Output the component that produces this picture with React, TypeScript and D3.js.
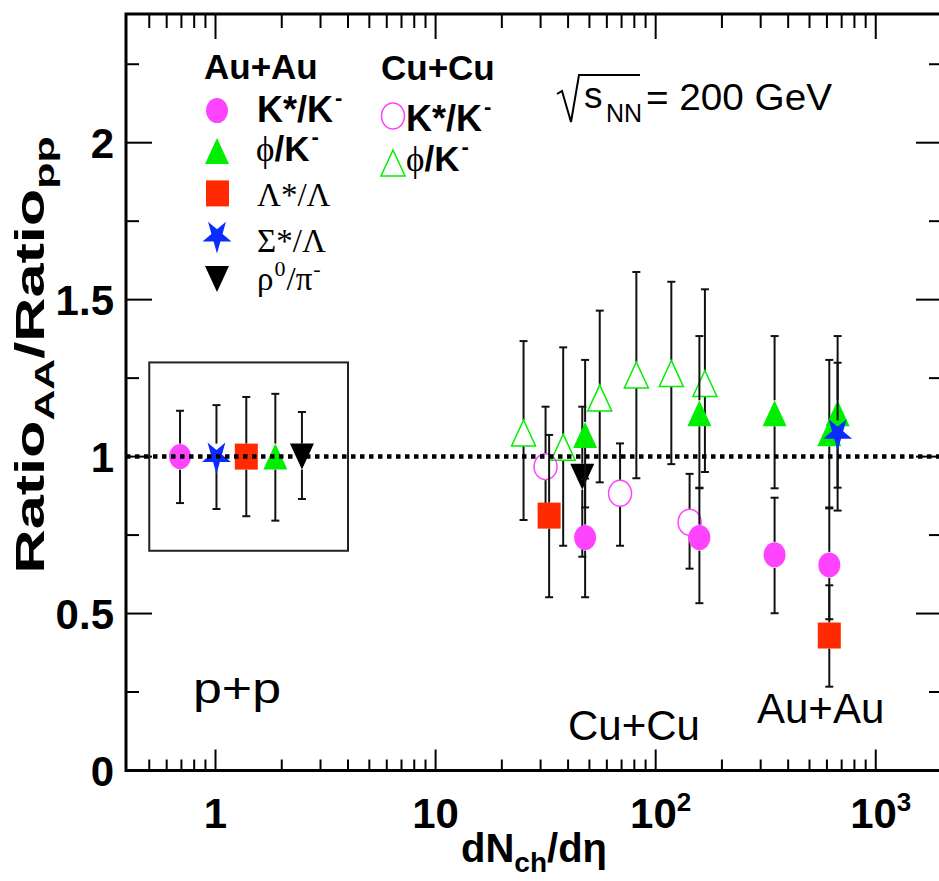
import React from "react";
import * as d3 from "d3";

const W = 939;
const H = 881;

// ---------- data ----------
// Au+Au K*/K- (filled circle) ; first point is p+p reference
const kstarAuX = [0.69, 47.8, 158, 347, 615];
const kstarAuY = [1.0, 0.742, 0.742, 0.687, 0.655];
const kstarAuLo = [0.852, 0.552, 0.533, 0.501, 0.482];
const kstarAuHi = [1.146, 0.93, 0.901, 0.869, 0.838];

// Au+Au phi/K- (filled triangle)
const phiAuX = [1.87, 47.8, 158, 347, 615, 671];
const phiAuY = [1.0, 1.069, 1.138, 1.138, 1.074, 1.138];
const phiAuLo = [0.796, 0.838, 0.899, 0.899, 0.835, 0.901];
const phiAuHi = [1.2, 1.308, 1.384, 1.384, 1.308, 1.384];

// Au+Au Lambda*/Lambda (filled square)
const lamAuX = [1.38, 32.8, 615];
const lamAuY = [1.0, 0.812, 0.43];
const lamAuLo = [0.81, 0.552, 0.267];
const lamAuHi = [1.19, 1.069, 0.59];

// Au+Au Sigma*/Lambda (star)
const sigAuX = [1.01, 671];
const sigAuY = [1.0, 1.074];
const sigAuLo = [0.833, 0.828];
const sigAuHi = [1.164, 1.299];

// Au+Au rho0/pi- (down triangle)
const rhoAuX = [2.47, 46.4];
const rhoAuY = [1.0, 0.936];
const rhoAuLo = [0.865, 0.681];
const rhoAuHi = [1.142, 1.159];

// Cu+Cu K*/K- (open circle)
const kstarCuX = [31.6, 68.9, 142.6];
const kstarCuY = [0.968, 0.883, 0.791];
const kstarCuLo = [0.777, 0.716, 0.643];
const kstarCuHi = [1.159, 1.042, 0.945];

// Cu+Cu phi/K- (open triangle)
const phiCuX = [25.1, 38, 55.7, 81.7, 117.8, 167.4];
const phiCuY = [1.075, 1.03, 1.187, 1.26, 1.265, 1.233];
const phiCuLo = [0.798, 0.716, 0.918, 0.931, 0.976, 0.951];
const phiCuHi = [1.368, 1.348, 1.465, 1.588, 1.557, 1.533];

const xMajor = [1, 10, 100, 1000];
const xMinor = [0.5, 0.6, 0.7, 0.8, 0.9, 2, 3, 4, 5, 6, 7, 8, 9, 20, 30, 40, 50, 60, 70, 80, 90, 200, 300, 400, 500, 600, 700, 800, 900];
const yMajor = [0, 0.5, 1, 1.5, 2];
const yMajorLabels = ["0", "0.5", "1", "1.5", "2"];
const yMinor = [0.25, 0.75, 1.25, 1.75, 2.25];
const ppBoxX = [0.5, 4];
const ppBoxY = [0.7, 1.3];

// ---------- colours ----------
const MAGENTA = "#ff44ff";
const GREEN = "#00ee00";
const RED = "#ff2a00";
const BLUE = "#0a2cff";

const SANS = "'Liberation Sans', Arial, Helvetica, sans-serif";
const SERIF = "'Liberation Serif', 'Times New Roman', serif";

const x = d3.scaleLog().domain([0.392, 2000]).range([126, 942]);
const y = d3.scaleLinear().domain([0, 2.41]).range([770.5, 14]);

type Shape = "circle" | "ocircle" | "tri" | "otri" | "square" | "star" | "dtri";

const HW = 11.5; // half width of markers
const HH = 13; // half height of markers

const starPath = d3.symbol(d3.symbolStar, 260)() as string;

function Marker({ shape, cx, cy, color }: { shape: Shape; cx: number; cy: number; color: string }) {
  const t = `translate(${cx},${cy})`;
  switch (shape) {
    case "circle":
      return <ellipse cx={cx} cy={cy} rx={HW - 0.5} ry={HH - 0.5} fill={color} />;
    case "ocircle":
      return <ellipse cx={cx} cy={cy} rx={HW} ry={HH} fill="none" stroke={color} strokeWidth={1.5} />;
    case "tri":
      return <path transform={t} d={`M0,${-HH} L${HW + 0.5},${HH} L${-HW - 0.5},${HH} Z`} fill={color} />;
    case "otri":
      return <path transform={t} d={`M0,${-HH} L${HW + 0.5},${HH} L${-HW - 0.5},${HH} Z`} fill="none" stroke={color} strokeWidth={1.5} />;
    case "dtri":
      return <path transform={t} d={`M0,${HH} L${HW + 0.5},${-HH} L${-HW - 0.5},${-HH} Z`} fill={color} />;
    case "square":
      return <rect x={cx - HW} y={cy - HH} width={HW * 2} height={HH * 2} fill={color} />;
    case "star":
      return <path transform={`${t} scale(1,1.15) rotate(180)`} d={starPath} fill={color} />;
  }
  return null;
}

function Series({ xs, ys, lo, hi, shape, color }: { xs: number[]; ys: number[]; lo: number[]; hi: number[]; shape: Shape; color: string }) {
  return (
    <g>
      {xs.map((xv, i) => {
        const px = x(xv);
        const py = y(ys[i]);
        const pHi = y(hi[i]);
        const pLo = y(lo[i]);
        return (
          <g key={"e" + i} stroke="#111" strokeWidth={2}>
            {pHi < py - HH && <line x1={px} x2={px} y1={pHi} y2={py - HH} />}
            {pLo > py + HH && <line x1={px} x2={px} y1={py + HH} y2={pLo} />}
            <line x1={px - 4} x2={px + 4} y1={pHi} y2={pHi} />
            <line x1={px - 4} x2={px + 4} y1={pLo} y2={pLo} />
          </g>
        );
      })}
      {xs.map((xv, i) => (
        <Marker key={"m" + i} shape={shape} cx={x(xv)} cy={y(ys[i])} color={color} />
      ))}
    </g>
  );
}

export default function App() {
  const x0 = x.range()[0];
  const x1 = x.range()[1];
  const yb = y(0);
  const yt = y.range()[1];

  return (
    <svg width={W} height={H} style={{ position: "absolute", left: 0, top: 0, background: "#fff" }} xmlns="http://www.w3.org/2000/svg">
      <rect x={0} y={0} width={W} height={H} fill="#fff" />

      {/* ticks */}
      <g stroke="#000" strokeWidth={2}>
        {xMajor.map((v) => (
          <g key={"xM" + v}>
            <line x1={x(v)} x2={x(v)} y1={yb} y2={yb - 21} />
            <line x1={x(v)} x2={x(v)} y1={yt} y2={yt + 25} />
          </g>
        ))}
        {xMinor.map((v) => (
          <g key={"xm" + v}>
            <line x1={x(v)} x2={x(v)} y1={yb} y2={yb - 11} />
            <line x1={x(v)} x2={x(v)} y1={yt} y2={yt + 14} />
          </g>
        ))}
        {yMajor.map((v) => (
          <g key={"yM" + v}>
            <line x1={x0} x2={x0 + 26} y1={y(v)} y2={y(v)} />
            <line x1={x1} x2={x1 - 26} y1={y(v)} y2={y(v)} />
          </g>
        ))}
        {yMinor.map((v) => (
          <g key={"ym" + v}>
            <line x1={x0} x2={x0 + 13} y1={y(v)} y2={y(v)} />
            <line x1={x1} x2={x1 - 13} y1={y(v)} y2={y(v)} />
          </g>
        ))}
      </g>

      {/* frame */}
      <rect x={x0} y={yt} width={x1 - x0} height={yb - yt} fill="none" stroke="#000" strokeWidth={3} />

      {/* p+p box */}
      <rect
        x={x(ppBoxX[0])}
        y={y(ppBoxY[1])}
        width={x(ppBoxX[1]) - x(ppBoxX[0])}
        height={y(ppBoxY[0]) - y(ppBoxY[1])}
        fill="none"
        stroke="#222"
        strokeWidth={2}
      />

      {/* data */}
      <Series xs={phiCuX} ys={phiCuY} lo={phiCuLo} hi={phiCuHi} shape="otri" color={GREEN} />
      <Series xs={kstarCuX} ys={kstarCuY} lo={kstarCuLo} hi={kstarCuHi} shape="ocircle" color={MAGENTA} />
      <Series xs={lamAuX} ys={lamAuY} lo={lamAuLo} hi={lamAuHi} shape="square" color={RED} />
      <Series xs={rhoAuX} ys={rhoAuY} lo={rhoAuLo} hi={rhoAuHi} shape="dtri" color="#000" />
      <Series xs={phiAuX} ys={phiAuY} lo={phiAuLo} hi={phiAuHi} shape="tri" color={GREEN} />
      <Series xs={kstarAuX} ys={kstarAuY} lo={kstarAuLo} hi={kstarAuHi} shape="circle" color={MAGENTA} />
      <Series xs={sigAuX} ys={sigAuY} lo={sigAuLo} hi={sigAuHi} shape="star" color={BLUE} />

      {/* dotted unity line */}
      <line x1={x0} x2={x1} y1={y(1)} y2={y(1)} stroke="#000" strokeWidth={4.5} strokeDasharray="4.5 4.5" />

      {/* y tick labels */}
      <g fontFamily={SANS} fontWeight="bold" fontSize={42} textAnchor="end">
        {yMajor.map((v, i) => (
          <text key={"yl" + v} x={114} y={y(v) + 15}>
            {yMajorLabels[i]}
          </text>
        ))}
      </g>

      {/* x tick labels */}
      <g fontFamily={SANS} fontWeight="bold" fontSize={42} textAnchor="middle">
        <text x={x(1)} y={828}>1</text>
        <text x={x(10)} y={828}>10</text>
        <text x={x(100) + 5} y={828}>
          10<tspan fontSize={26} dy={-17}>2</tspan>
        </text>
        <text x={x(1000) + 5} y={828}>
          10<tspan fontSize={26} dy={-17}>3</tspan>
        </text>
      </g>

      {/* axis titles */}
      <text x={534} y={862} fontFamily={SANS} fontWeight="bold" fontSize={40} textAnchor="middle">
        dN<tspan fontSize={28} dy={10}>ch</tspan>
        <tspan dy={-10}>/dη</tspan>
      </text>
      <g transform="translate(44,355) rotate(-90) scale(1.53,1)">
        <text x={0} y={0} fontFamily={SANS} fontWeight="bold" fontSize={40} textAnchor="middle">
          Ratio<tspan fontSize={28} dy={10}>AA</tspan>
          <tspan dy={-10}>/Ratio</tspan>
          <tspan fontSize={28} dy={10}>pp</tspan>
        </text>
      </g>

      {/* legend */}
      <g fontFamily={SANS}>
        <text x={204} y={79} fontWeight="bold" fontSize={35}>Au+Au</text>
        <text x={381} y={80} fontWeight="bold" fontSize={35}>Cu+Cu</text>

        <Marker shape="circle" cx={217} cy={110.6} color={MAGENTA} />
        <text x={257} y={122} fontWeight="bold" fontSize={36}>
          K*/K<tspan fontSize={22} dx={2} dy={-17}>-</tspan>
        </text>

        <Marker shape="tri" cx={217} cy={151} color={GREEN} />
        <text x={256} y={161} fontSize={35}>
          <tspan fontFamily={SERIF}>ϕ</tspan>
          <tspan fontWeight="bold">/K</tspan>
          <tspan fontSize={22} dx={2} dy={-17} fontWeight="bold">-</tspan>
        </text>

        <Marker shape="square" cx={217.5} cy={193.4} color={RED} />
        <text x={257} y={206} fontSize={33} fontFamily={SERIF}>Λ*/Λ</text>

        <Marker shape="star" cx={217} cy={236} color={BLUE} />
        <text x={257} y={252} fontSize={33} fontFamily={SERIF}>Σ*/Λ</text>

        <Marker shape="dtri" cx={217} cy={279} color="#000" />
        <text x={257} y={290} fontSize={33} fontFamily={SERIF}>
          ρ<tspan fontSize={22} dx={1} dy={-14}>0</tspan>
          <tspan dx={1} dy={14}>/π</tspan>
          <tspan fontSize={22} dx={1} dy={-14}>-</tspan>
        </text>

        <Marker shape="ocircle" cx={393} cy={116} color={MAGENTA} />
        <text x={406} y={131} fontWeight="bold" fontSize={36}>
          K*/K<tspan fontSize={22} dx={2} dy={-17}>-</tspan>
        </text>

        <Marker shape="otri" cx={393} cy={163} color={GREEN} />
        <text x={406} y={171} fontSize={35}>
          <tspan fontFamily={SERIF}>ϕ</tspan>
          <tspan fontWeight="bold">/K</tspan>
          <tspan fontSize={22} dx={2} dy={-17} fontWeight="bold">-</tspan>
        </text>
      </g>

      {/* sqrt(s_NN) = 200 GeV */}
      <path d="M557,94 L562,91 L571,122 L579,75 L640,75" fill="none" stroke="#000" strokeWidth={2} />
      <text x={584} y={108} fontFamily={SANS} fontSize={37}>s</text>
      <text x={606} y={122} fontFamily={SANS} fontSize={25}>NN</text>
      <text x={646} y={110} fontFamily={SANS} fontSize={36} textLength={186} lengthAdjust="spacingAndGlyphs">= 200 GeV</text>

      {/* system labels */}
      <g fontFamily={SANS} fontSize={42}>
        <text x={193} y={703} textLength={88} lengthAdjust="spacingAndGlyphs">p+p</text>
        <text x={568} y={740}>Cu+Cu</text>
        <text x={757} y={723}>Au+Au</text>
      </g>
    </svg>
  );
}
